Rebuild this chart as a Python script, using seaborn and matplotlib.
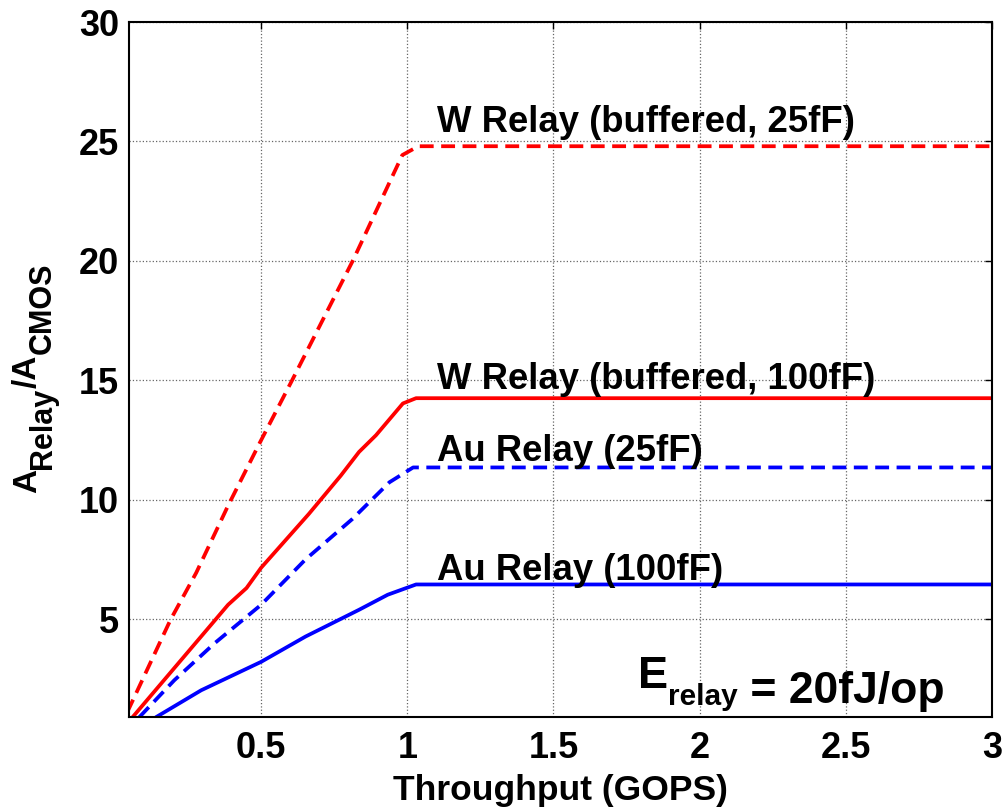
import matplotlib
matplotlib.use("Agg")
import matplotlib.pyplot as plt
import seaborn as sns
import pandas as pd

# ---- data ----
w25_x = [0.042, 0.19, 0.278, 0.387, 0.497, 0.606, 0.815, 0.983, 1.038, 3.0]
w25_y = [1.1, 4.97, 6.94, 9.75, 12.42, 15.0, 20.04, 24.43, 24.8, 24.8]

w100_x = [0.06, 0.387, 0.45, 0.5, 0.663, 0.772, 0.835, 0.893, 0.985, 1.03, 3.0]
w100_y = [0.89, 5.6, 6.3, 7.15, 9.4, 11.0, 12.0, 12.7, 14.03, 14.25, 14.25]

au25_x = [0.083, 0.203, 0.341, 0.5, 0.652, 0.812, 0.939, 1.02, 3.0]
au25_y = [0.89, 2.44, 3.99, 5.6, 7.5, 9.19, 10.73, 11.35, 11.35]

au100_x = [0.14, 0.295, 0.5, 0.652, 0.835, 0.933, 1.03, 3.0]
au100_y = [0.89, 2.02, 3.21, 4.27, 5.39, 6.02, 6.45, 6.45]

series_names = ["W Relay (buffered, 25fF)", "W Relay (buffered, 100fF)",
                "Au Relay (25fF)", "Au Relay (100fF)"]
label_pos_y = [25.38, 14.62, 11.6, 6.64]
label_pos_x = 1.1

x_ticks = [0.5, 1, 1.5, 2, 2.5, 3]
x_tick_labels = ["0.5", "1", "1.5", "2", "2.5", "3"]
y_ticks = [5, 10, 15, 20, 25, 30]
y_tick_labels = ["5", "10", "15", "20", "25", "30"]

# ---- style ----
sns.set_style("white")
plt.rcParams["font.family"] = ["Liberation Sans", "DejaVu Sans"]
plt.rcParams["font.weight"] = "bold"
for key in ["text.color", "axes.labelcolor", "xtick.color", "ytick.color"]:
    plt.rcParams[key] = "black"

fig = plt.figure(figsize=(10.03, 8.07), dpi=100)
ax = fig.add_axes([0.1286, 0.1115, 0.8604, 0.8612])

lw = 2.7
dash = (3.7, 2.0)
specs = [
    (w25_x, w25_y, "#ff0000", True),
    (w100_x, w100_y, "#ff0000", False),
    (au25_x, au25_y, "#0000ff", True),
    (au100_x, au100_y, "#0000ff", False),
]
for (xs, ys, col, dashed), name in zip(specs, series_names):
    df = pd.DataFrame({"x": xs, "y": ys})
    line_kw = dict(dashes=dash) if dashed else {}
    sns.lineplot(data=df, x="x", y="y", color=col, linewidth=lw, sort=False,
                 estimator=None, ax=ax, **line_kw)

for name, yy in zip(series_names, label_pos_y):
    ax.text(label_pos_x, yy, name, fontsize=26.3, fontweight="bold",
            color="black", ha="left", va="baseline")

ax.set_xlim(0.048, 3.0)
ax.set_ylim(0.9, 30)
ax.set_xticks(x_ticks)
ax.set_xticklabels(x_tick_labels)
ax.set_yticks(y_ticks)
ax.set_yticklabels(y_tick_labels)
ax.tick_params(axis="both", direction="in", length=5, width=1,
               top=True, right=True, labelsize=26, colors="black")
ax.tick_params(axis="x", pad=10)
ax.tick_params(axis="y", pad=7)
for lab in ax.get_xticklabels() + ax.get_yticklabels():
    lab.set_fontweight("bold")

ax.grid(True, linestyle=":", color="#666666", linewidth=0.9)
for sp in ax.spines.values():
    sp.set_visible(True)
    sp.set_color("black")
    sp.set_linewidth(1.5)

ax.set_xlabel("Throughput (GOPS)", fontsize=25.5, fontweight="bold",
              labelpad=6)
ax.set_ylabel("")

# y label built from pieces (large subscripts, as in reference)
big, small = 24, 22
sub_shift = 11
p1 = ax.text(-0.1, 0.322, "A", transform=ax.transAxes, rotation=90,
             fontsize=big, fontweight="bold", ha="right", va="bottom")
p2 = ax.annotate("Relay", xy=(1, 1), xycoords=p1, xytext=(sub_shift, 0),
                 textcoords="offset points", rotation=90, fontsize=small,
                 fontweight="bold", ha="right", va="bottom")
p3 = ax.annotate("/A", xy=(1, 1), xycoords=p2, xytext=(-sub_shift, 0),
                 textcoords="offset points", rotation=90, fontsize=big,
                 fontweight="bold", ha="right", va="bottom")
p4 = ax.annotate("CMOS", xy=(1, 1), xycoords=p3, xytext=(sub_shift, 0),
                 textcoords="offset points", rotation=90, fontsize=small,
                 fontweight="bold", ha="right", va="bottom")

# E_relay annotation
t1 = ax.text(1.79, 2.12, "E", fontsize=32.5, fontweight="bold",
             ha="left", va="baseline")
t2 = ax.annotate("relay", xy=(1, 0), xycoords=t1, xytext=(0, -6),
                 textcoords="offset points", fontsize=21.5, fontweight="bold",
                 ha="left", va="baseline")
ax.annotate(" = 20fJ/op", xy=(1, 0), xycoords=t2, xytext=(0, 6),
            textcoords="offset points", fontsize=32, fontweight="bold",
            ha="left", va="baseline")

fig.savefig("out.png", dpi=100)
